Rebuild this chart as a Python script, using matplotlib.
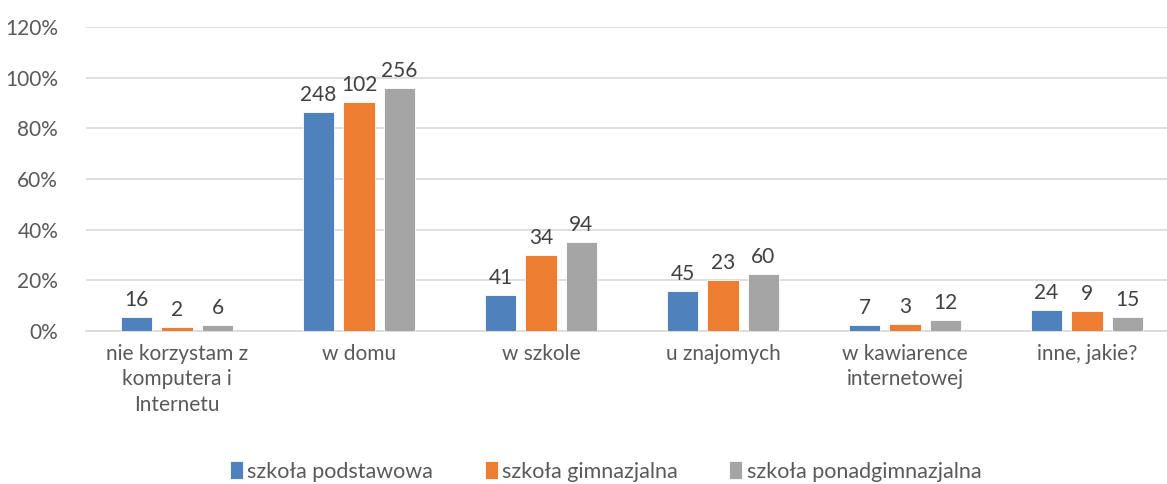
import numpy as np
import matplotlib
matplotlib.use("Agg")
import matplotlib.pyplot as plt
from matplotlib.ticker import PercentFormatter, MultipleLocator

plt.rcParams['font.family'] = ['Lato', 'DejaVu Sans']

categories = [
    "nie korzystam z\nkomputera i\nInternetu",
    "w domu",
    "w szkole",
    "u znajomych",
    "w kawiarence\ninternetowej",
    "inne, jakie?",
]
series_names = ["szkoła podstawowa", "szkoła gimnazjalna", "szkoła ponadgimnazjalna"]

# answer counts per school type
podstawowa = [16, 248, 41, 45, 7, 24]
gimnazjalna = [2, 102, 34, 23, 3, 9]
ponadgimnazjalna = [6, 256, 94, 60, 12, 15]

# number of respondents per school type
respondents = [287, 113, 267]

colors = ["#4F81BD", "#ED7D31", "#A5A5A5"]
text_color = "#595959"

fig = plt.figure(figsize=(11.67, 4.84), dpi=100)
ax = fig.add_axes([0.0737, 0.316, 0.9357, 0.628])

x = np.arange(len(categories))
width = 0.175
step = 0.2225
all_counts = [podstawowa, gimnazjalna, ponadgimnazjalna]

for i, (name, counts, total, color) in enumerate(zip(series_names, all_counts, respondents, colors)):
    shares = np.array(counts) / total * 100
    pos = x + (i - 1) * step
    bars = ax.bar(pos, shares, width, color=color, label=name, zorder=3,
                  edgecolor="white", linewidth=0.6)
    for b, c in zip(bars, counts):
        ax.annotate(str(c), (b.get_x() + b.get_width() / 2, b.get_height()),
                    xytext=(0, 5), textcoords="offset points",
                    ha="center", va="bottom", fontsize=15, color="#404040")

ax.set_ylim(0, 120)
ax.set_xlim(-0.5, len(categories) - 0.5)
ax.yaxis.set_major_locator(MultipleLocator(20))
ax.yaxis.set_major_formatter(PercentFormatter(decimals=0))
ax.grid(axis="y", color="#D9D9D9", linewidth=1.2, zorder=0)
ax.set_axisbelow(True)
for side in ["top", "right", "left"]:
    ax.spines[side].set_visible(False)
ax.spines["bottom"].set_color("#D9D9D9")
ax.spines["bottom"].set_linewidth(1.2)
ax.tick_params(axis="both", length=0, labelsize=15, colors=text_color)
ax.tick_params(axis="y", pad=20)
ax.tick_params(axis="x", pad=9)
ax.set_xticks(x)
ax.set_xticklabels(categories, linespacing=1.35)

leg = fig.legend(loc="lower center", bbox_to_anchor=(0.519, -0.035), ncol=3,
                 frameon=False, fontsize=15.5, handlelength=0.6, handleheight=0.9,
                 handletextpad=0.2, columnspacing=2.4)
for t in leg.get_texts():
    t.set_color(text_color)

fig.savefig("out.png", dpi=100)
